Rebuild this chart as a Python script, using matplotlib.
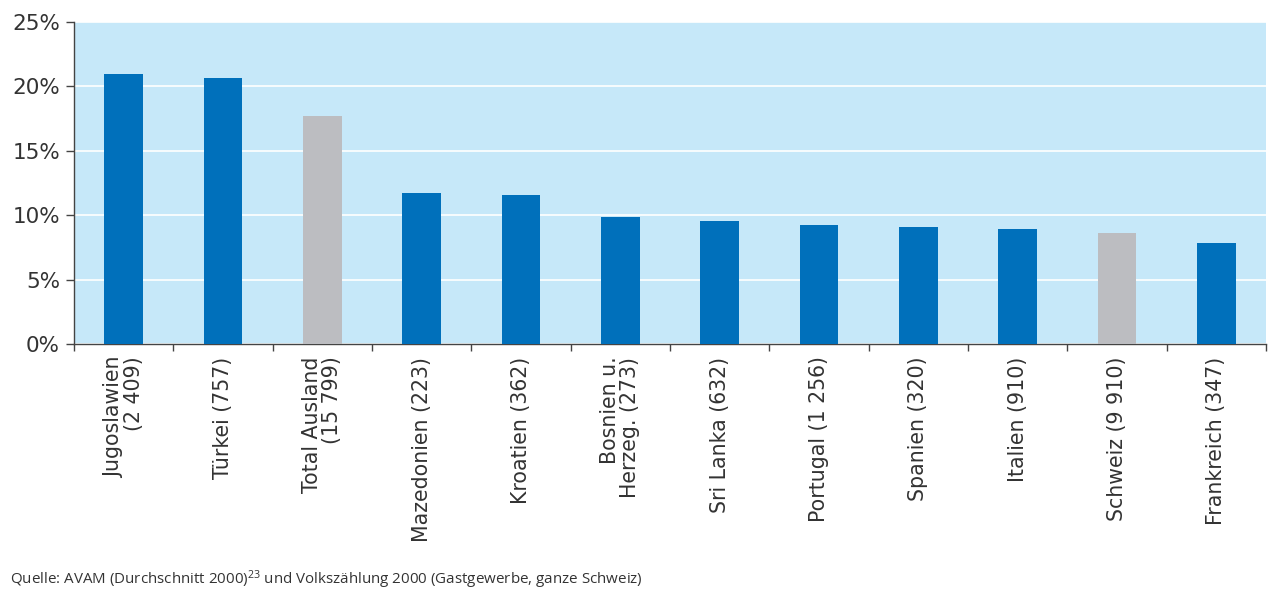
import matplotlib
matplotlib.use("Agg")
import matplotlib.pyplot as plt
import numpy as np

categories = ["Jugoslawien\n(2 409)", "Türkei (757)", "Total Ausland\n(15 799)", "Mazedonien (223)",
              "Kroatien (362)", "Bosnien u.\nHerzeg. (273)", "Sri Lanka (632)", "Portugal (1 256)",
              "Spanien (320)", "Italien (910)", "Schweiz (9 910)", "Frankreich (347)"]
values = [21.0, 20.65, 17.7, 11.7, 11.55, 9.85, 9.55, 9.25, 9.1, 8.95, 8.6, 7.85]
is_total = [False, False, True, False, False, False, False, False, False, False, True, False]
yticks = [0, 5, 10, 15, 20, 25]
source = "Quelle: AVAM (Durchschnitt 2000)$^{23}$ und Volkszählung 2000 (Gastgewerbe, ganze Schweiz)"

plt.rcParams['font.family'] = ['DejaVu Sans']
plt.rcParams['mathtext.fontset'] = 'custom'
plt.rcParams['mathtext.rm'] = 'Open Sans'
plt.rcParams['mathtext.it'] = 'Open Sans'
plt.rcParams['mathtext.default'] = 'regular'

blue = "#0070bb"
gray = "#bcbdc1"
bg = "#c6e8f9"
txt = "#333333"

fig = plt.figure(figsize=(12.71, 5.92), dpi=100)
ax = fig.add_axes([74/1271, 1 - 344/592, (1266-74)/1271, (344-22)/592])
ax.set_facecolor(bg)

x = np.arange(len(categories))
colors = [gray if t else blue for t in is_total]
ax.bar(x, values, width=0.39, color=colors, zorder=3)

ax.set_xlim(-0.5, len(categories) - 0.5)
ax.set_ylim(0, 25)
ax.set_yticks(yticks)
ax.set_yticklabels([f"{v}%" for v in yticks], fontsize=15.5, color=txt)
ax.yaxis.grid(True, color="white", linewidth=1.2, zorder=1)
ax.set_axisbelow(True)

ax.set_xticks(x)
ax.set_xticklabels(categories, rotation=90, fontsize=14.8, color=txt, ha="center", va="top",
                   multialignment="right", linespacing=1.0)
ax.tick_params(axis="x", which="major", length=0, pad=9)
ax.set_xticks(np.arange(len(categories) + 1) - 0.5, minor=True)
ax.tick_params(axis="x", which="minor", length=5, width=1, color="#444444", direction="out")
ax.tick_params(axis="y", length=6, width=1, color="#444444", pad=4)

for s in ["top", "right"]:
    ax.spines[s].set_visible(False)
for s in ["left", "bottom"]:
    ax.spines[s].set_color("#444444")
    ax.spines[s].set_linewidth(1)

fig.text(10/1271, 1 - 584/592, source, fontsize=10.9, color=txt, ha="left", va="baseline",
         family="Open Sans")

fig.savefig("out.png", dpi=100)
